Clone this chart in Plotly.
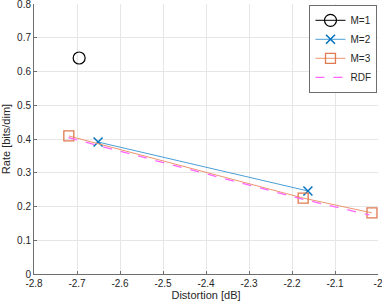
import plotly.graph_objects as go

m1_x = [-2.695]
m1_y = [0.640]
m2_x = [-2.651, -2.163]
m2_y = [0.391, 0.246]
m3_x = [-2.719, -2.174, -2.014]
m3_y = [0.409, 0.225, 0.181]
rdf_x = [-2.72, -2.45, -2.17, -2.02]
rdf_y = [0.404, 0.313, 0.220, 0.175]

x_ticks = [-2.8, -2.7, -2.6, -2.5, -2.4, -2.3, -2.2, -2.1, -2.0]
x_labels = ["-2.8", "-2.7", "-2.6", "-2.5", "-2.4", "-2.3", "-2.2", "-2.1", "-2"]
y_ticks = [0, 0.1, 0.2, 0.3, 0.4, 0.5, 0.6, 0.7, 0.8]
y_labels = ["0", "0.1", "0.2", "0.3", "0.4", "0.5", "0.6", "0.7", "0.8"]

FONT = "Liberation Sans, Arial, sans-serif"

fig = go.Figure()
fig.add_trace(go.Scatter(x=m1_x, y=m1_y, name="M=1", mode="lines+markers",
                         line=dict(color="#000000", width=1),
                         marker=dict(symbol="circle-open", size=12, color="#000000",
                                     line=dict(width=1.2, color="#000000"))))
fig.add_trace(go.Scatter(x=m2_x, y=m2_y, name="M=2", mode="lines+markers",
                         line=dict(color="#4a9fd8", width=1),
                         marker=dict(symbol="x-thin-open", size=9, color="#0072BD",
                                     line=dict(width=1.5, color="#0072BD"))))
fig.add_trace(go.Scatter(x=m3_x, y=m3_y, name="M=3", mode="lines+markers",
                         line=dict(color="#ec9570", width=1),
                         marker=dict(symbol="square-open", size=10, color="#e07a50",
                                     line=dict(width=1.3, color="#e07a50"))))
fig.add_trace(go.Scatter(x=rdf_x, y=rdf_y, name="RDF", mode="lines",
                         line=dict(color="#ff66ff", width=1.3, dash="dash")))

axis_common = dict(showline=True, linecolor="#6e6e6e", linewidth=1, mirror=False,
                   ticks="inside", ticklen=3, tickcolor="#6e6e6e", automargin=False,
                   ticklabeloverflow="allow",
                   showgrid=True, gridcolor="#e6e6e6", gridwidth=1, zeroline=False,
                   tickfont=dict(family=FONT, size=10, color="#262626"))

fig.update_xaxes(range=[-2.8, -2.0], tickvals=x_ticks, ticktext=x_labels,
                 title=dict(text="Distortion [dB]", standoff=2,
                            font=dict(family=FONT, size=11, color="#262626")),
                 **axis_common)
fig.update_yaxes(range=[0, 0.8], tickvals=y_ticks, ticktext=y_labels,
                 title=dict(text="Rate [bits/dim]", standoff=4,
                            font=dict(family=FONT, size=11, color="#262626")),
                 **axis_common)

fig.update_layout(width=382, height=307,
                  margin=dict(l=34, r=4, t=4, b=33, autoexpand=False),
                  paper_bgcolor="white", plot_bgcolor="white",
                  showlegend=True,
                  legend=dict(x=0.9985, y=0.997, xanchor="right", yanchor="top",
                              bgcolor="white", bordercolor="#6e6e6e", borderwidth=1,
                              font=dict(family=FONT, size=10, color="#262626"),
                              tracegroupgap=0, itemwidth=30))

fig.write_html("out.html", config={"displayModeBar": False},
               post_script="document.body.style.margin='0';document.body.style.padding='0';")
